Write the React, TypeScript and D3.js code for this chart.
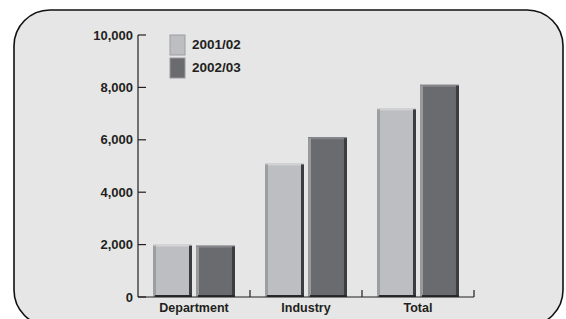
import React from 'react'
import * as d3 from 'd3'

const categories = ['Department', 'Industry', 'Total']
const series = ['2001/02', '2002/03']
const values2001 = [2000, 5100, 7200]
const values2002 = [1960, 6100, 8100]
const yTicks = [0, 2000, 4000, 6000, 8000, 10000]

const W = 566
const H = 319
const font = '"Liberation Sans", Arial, sans-serif'
const ink = '#231f20'

const barColors = [
  { main: '#bdbec2', left: '#9d9ea1', right: '#3c3c3e', top: '#d2d3d5' },
  { main: '#6a6b6f', left: '#9a9a9d', right: '#3d3d3f', top: '#85868a' },
]

export default function App() {
  const x0 = d3.scaleBand().domain(categories).range([138, 474]).paddingInner(0).paddingOuter(0)
  const x1 = d3.scaleBand().domain(series).range([0, x0.bandwidth()]).paddingInner(0.093).paddingOuter(0.35)
  const y = d3.scaleLinear().domain([0, 10000]).range([297, 35])
  const fmt = d3.format(',')
  const data = [values2001, values2002]
  const bw = x1.bandwidth()
  const y0 = y(0)

  return (
    <div style={{ position: 'absolute', left: 0, top: 0 }}>
      <svg width={W} height={H} style={{ display: 'block', background: '#fff' }}>
        <rect x={14} y={10} width={549} height={316} rx={36} ry={36} fill="#e6e6e6" stroke="#111" strokeWidth={1.6} />

        {/* bars */}
        {categories.map((c, ci) =>
          series.map((s, si) => {
            const bx = (x0(c) as number) + (x1(s) as number)
            const top = y(data[si][ci])
            const h = y0 - top
            const col = barColors[si]
            return (
              <g key={c + s}>
                <rect x={bx} y={top} width={bw} height={h} fill={col.main} />
                <rect x={bx} y={top} width={bw} height={2} fill={col.top} />
                <rect x={bx} y={top + 1} width={3} height={h - 1} fill={col.left} />
                <rect x={bx + bw - 3} y={top + 1} width={3} height={h - 1} fill={col.right} />
                <rect x={bx + 2} y={y0 - 2} width={bw - 2} height={2} fill="#2a2a2c" />
              </g>
            )
          })
        )}

        {/* y axis */}
        <line x1={138} x2={138} y1={y(10000)} y2={y0} stroke={ink} strokeWidth={1.2} />
        {yTicks.map(t => (
          <g key={t}>
            <line x1={138} x2={146} y1={y(t)} y2={y(t)} stroke={ink} strokeWidth={1.2} />
            <text x={133} y={y(t)} dy="0.36em" textAnchor="end" fontFamily={font} fontWeight="bold" fontSize={13} fill={ink}>
              {fmt(t)}
            </text>
          </g>
        ))}

        {/* x axis */}
        <line x1={138} x2={474} y1={y0} y2={y0} stroke={ink} strokeWidth={1.2} />
        {categories.map((c, i) => (
          <g key={c}>
            {i > 0 && <line x1={x0(c) as number} x2={x0(c) as number} y1={y0 - 7} y2={y0} stroke={ink} strokeWidth={1.2} />}
            <text x={(x0(c) as number) + x0.bandwidth() / 2} y={312} textAnchor="middle" fontFamily={font} fontWeight="bold" fontSize={12.5} fill={ink}>
              {c}
            </text>
          </g>
        ))}
        <line x1={474} x2={474} y1={y0 - 7} y2={y0} stroke={ink} strokeWidth={1.2} />

        {/* legend */}
        {series.map((s, i) => {
          const ly = 35 + i * 23
          const col = barColors[i]
          return (
            <g key={s}>
              <rect x={170} y={ly} width={15} height={20} fill={col.main} stroke={col.left} strokeWidth={1} />
              <text x={192} y={ly + 14} fontFamily={font} fontWeight="bold" fontSize={13.5} fill={ink}>
                {s}
              </text>
            </g>
          )
        })}
      </svg>
    </div>
  )
}
